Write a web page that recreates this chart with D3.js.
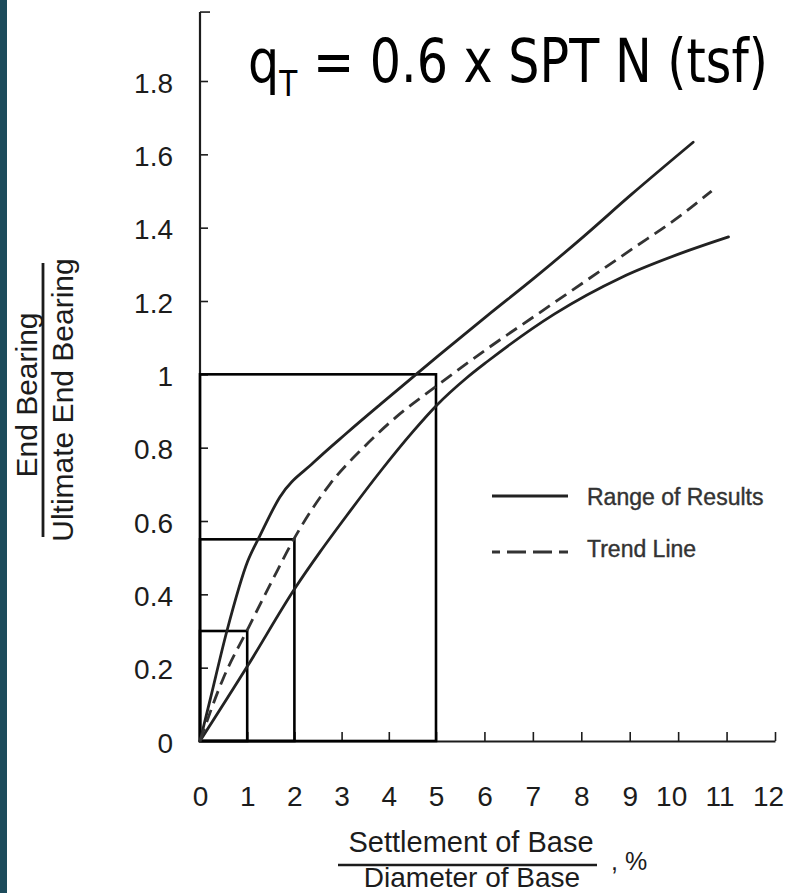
<!DOCTYPE html>
<html>
<head>
<meta charset="utf-8">
<script src="https://cdn.jsdelivr.net/npm/d3@7"></script>
<style>
html,body{margin:0;padding:0;background:#fff;overflow:hidden;}
svg{display:block;}
</style>
</head>
<body>
<svg id="chart" width="785" height="893"></svg>
<script>
// ---------- data ----------
const xTickValues = [0,1,2,3,4,5,6,7,8,9,10,11,12];
const xTickLabels = ["0","1","2","3","4","5","6","7","8","9","10","11","12"];
const yTickValues = [0,0.2,0.4,0.6,0.8,1.0,1.2,1.4,1.6,1.8];
const yTickLabels = ["0","0.2","0.4","0.6","0.8","1","1.2","1.4","1.6","1.8"];

const upperX = [0,0.21,0.57,1.01,1.27,1.69,2.41,3.11,3.82,4.44,5.07,6.06,7.05,8.04,9.03,10.31];
const upperY = [0,0.11,0.30,0.49,0.56,0.665,0.76,0.84,0.918,0.985,1.053,1.16,1.265,1.375,1.49,1.633];

const trendX = [0,0.49,1.01,1.52,2.03,2.75,3.46,4.16,4.98,6.06,7.05,8.04,9.03,10.02,10.69];
const trendY = [0,0.17,0.305,0.435,0.56,0.70,0.80,0.884,0.965,1.07,1.16,1.25,1.34,1.43,1.50];

const lowerX = [0,1.01,2.03,2.54,3.11,3.82,4.52,5.01,5.63,6.06,7.45,8.84,10.22,11.04];
const lowerY = [0,0.205,0.42,0.515,0.615,0.735,0.845,0.915,0.99,1.035,1.165,1.265,1.338,1.375];

const boxX = [1,2,5];
const boxY = [0.3,0.55,1.0];

const legendLabels = ["Range of Results","Trend Line"];
const titleParts = ["q","T"," = 0.6 x SPT N (tsf)"];
const xTitleTop = "Settlement of Base";
const xTitleBottom = "Diameter of Base";
const xTitleSuffix = ", %";
const yTitleTop = "End Bearing";
const yTitleBottom = "Ultimate End Bearing";
const yAxisTopValue = 1.988;

// ---------- setup ----------
const svg = d3.select("#chart");
svg.append("rect").attr("x",0).attr("y",0).attr("width",785).attr("height",893).attr("fill","#ffffff");
svg.append("rect").attr("x",0).attr("y",0).attr("width",7).attr("height",893).attr("fill","#1c4b5b");

const x = d3.scaleLinear().domain([0,5,12]).range([200,436,775]);
const y = d3.scaleLinear().domain([0,1.8]).range([741,81]);

const ink = "#1c1c1c";
const font = "Liberation Sans, Arial, Helvetica, sans-serif";

// ---------- axes ----------
const xAxis = d3.axisBottom(x)
  .tickValues(xTickValues)
  .tickFormat((d,i)=>xTickLabels[i])
  .tickSize(-9).tickSizeOuter(0).tickPadding(45);
const gx = svg.append("g").attr("transform",`translate(0,${y(0)})`).call(xAxis);
gx.select(".domain").attr("stroke",ink).attr("stroke-width",2.2);
gx.selectAll(".tick line").attr("stroke",ink).attr("stroke-width",1.6);
gx.selectAll(".tick text").attr("font-family",font).attr("font-size",28).attr("fill",ink)
  .attr("dx",d=>d>=10?-7:0);

const yAxis = d3.axisLeft(y)
  .tickValues(yTickValues)
  .tickFormat((d,i)=>yTickLabels[i])
  .tickSize(-8).tickSizeOuter(0).tickPadding(27);
const gy = svg.append("g").attr("transform",`translate(${x(0)},0)`).call(yAxis);
gy.select(".domain").remove();
gy.selectAll(".tick line").attr("stroke",ink).attr("stroke-width",1.6);
gy.selectAll(".tick text").attr("font-family",font).attr("font-size",28).attr("fill",ink).attr("dy","0.40em");
gy.selectAll(".tick").filter(d=>d===0).select("line").remove();

// y axis line with top cap
svg.append("line").attr("x1",x(0)).attr("x2",x(0)).attr("y1",y(0)).attr("y2",y(yAxisTopValue))
  .attr("stroke",ink).attr("stroke-width",2.2);
svg.append("line").attr("x1",x(0)).attr("x2",x(0)+10).attr("y1",y(yAxisTopValue)).attr("y2",y(yAxisTopValue))
  .attr("stroke",ink).attr("stroke-width",1.6);

// ---------- boxes ----------
svg.append("g").selectAll("rect").data(boxX).join("rect")
  .attr("x",x(0))
  .attr("y",(d,i)=>y(boxY[i]))
  .attr("width",d=>x(d)-x(0))
  .attr("height",(d,i)=>y(0)-y(boxY[i]))
  .attr("fill","none").attr("stroke","#000").attr("stroke-width",2.6);

// ---------- curves ----------
const line = d3.line().x(d=>x(d[0])).y(d=>y(d[1])).curve(d3.curveMonotoneX);
const zip = (a,b)=>a.map((v,i)=>[v,b[i]]);

svg.append("path").datum(zip(upperX,upperY)).attr("d",line)
  .attr("fill","none").attr("stroke","#222").attr("stroke-width",2.8).attr("stroke-linecap","round");
svg.append("path").datum(zip(lowerX,lowerY)).attr("d",line)
  .attr("fill","none").attr("stroke","#222").attr("stroke-width",2.8).attr("stroke-linecap","round");
svg.append("path").datum(zip(trendX,trendY)).attr("d",line)
  .attr("fill","none").attr("stroke","#333").attr("stroke-width",2.8).attr("stroke-dasharray","13,7");

// ---------- legend ----------
const lg = svg.append("g");
lg.append("line").attr("x1",492).attr("x2",568).attr("y1",496).attr("y2",496)
  .attr("stroke","#222").attr("stroke-width",3);
lg.append("line").attr("x1",492).attr("x2",568).attr("y1",552).attr("y2",552)
  .attr("stroke","#333").attr("stroke-width",3).attr("stroke-dasharray","8,7,19,7,19,7,9");
lg.selectAll("text").data(legendLabels).join("text")
  .attr("x",587).attr("y",(d,i)=>[505,557][i])
  .attr("font-family",font).attr("font-size",23).attr("fill","#333")
  .attr("stroke","#333").attr("stroke-width",0.4)
  .text(d=>d);

// ---------- x title ----------
const xt = svg.append("g");
xt.append("text").attr("x",471).attr("y",852).attr("text-anchor","middle")
  .attr("font-family",font).attr("font-size",29).attr("fill",ink).text(xTitleTop);
xt.append("line").attr("x1",338).attr("x2",597).attr("y1",865).attr("y2",865)
  .attr("stroke",ink).attr("stroke-width",2.6);
xt.append("text").attr("x",472).attr("y",887).attr("text-anchor","middle")
  .attr("font-family",font).attr("font-size",28).attr("fill",ink).text(xTitleBottom);
xt.append("text").attr("x",611).attr("y",870)
  .attr("font-family",font).attr("font-size",25).attr("fill",ink).text(xTitleSuffix);

// ---------- y title ----------
const yt = svg.append("g");
yt.append("text").attr("transform","translate(37,395) rotate(-90)").attr("text-anchor","middle")
  .attr("font-family",font).attr("font-size",30).attr("fill",ink).text(yTitleTop);
yt.append("line").attr("x1",43).attr("x2",43).attr("y1",263).attr("y2",537)
  .attr("stroke",ink).attr("stroke-width",2.8);
yt.append("text").attr("transform","translate(73,400) rotate(-90)").attr("text-anchor","middle")
  .attr("font-family",font).attr("font-size",30).attr("fill",ink).text(yTitleBottom);

// ---------- title ----------
const tg = svg.append("g").attr("transform","translate(248,82)");
const tt = tg.append("text").attr("x",0).attr("y",0)
  .attr("font-family","DejaVu Sans, Verdana, sans-serif").attr("font-size",60).attr("fill","#000");
tt.append("tspan").text(titleParts[0]);
tt.append("tspan").attr("font-size",36).attr("dy",14).text(titleParts[1]);
tt.append("tspan").attr("dy",-14).text(titleParts[2]);
const bw = tt.node().getBBox().width;
tg.attr("transform",`translate(248,82) scale(${520/bw},1)`);
</script>
</body>
</html>
